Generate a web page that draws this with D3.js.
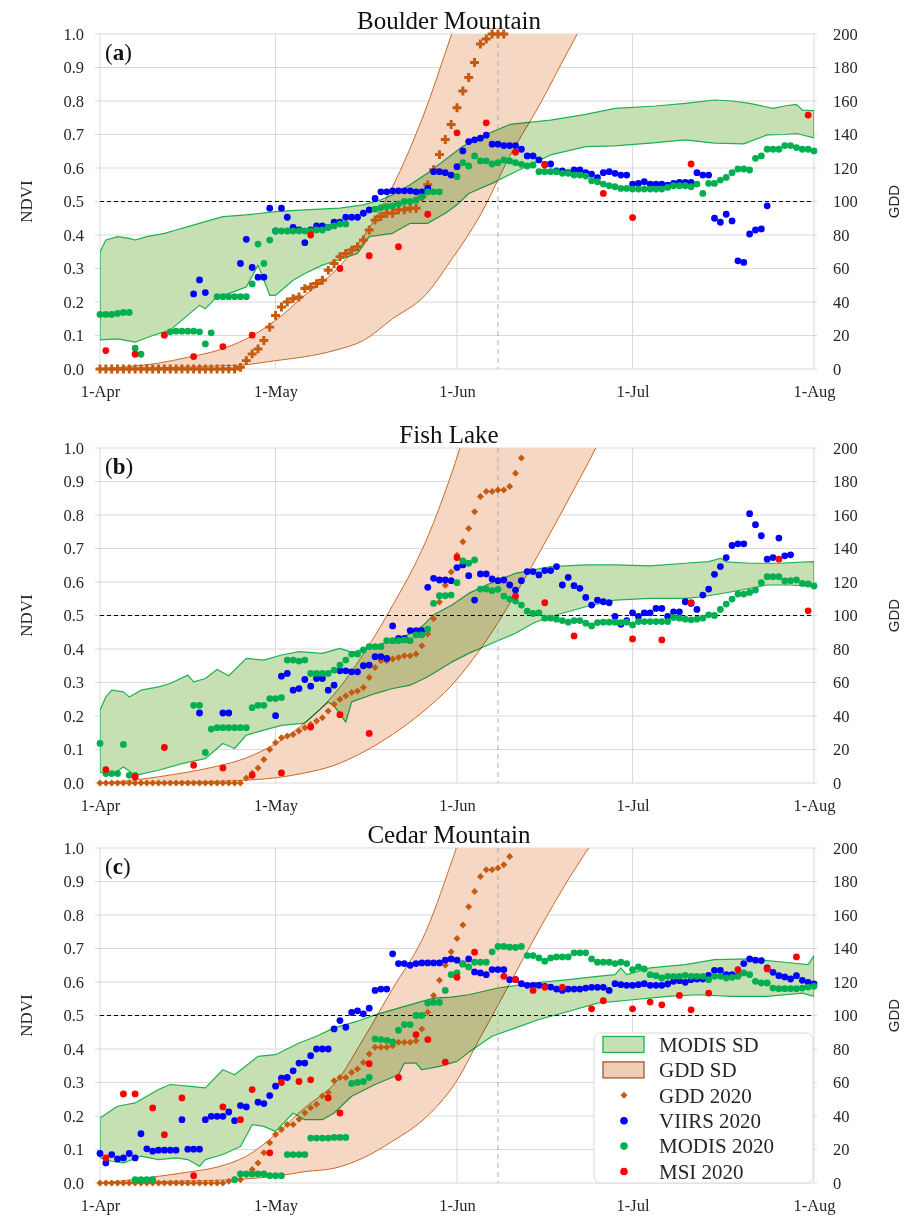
<!DOCTYPE html>
<html>
<head>
<meta charset="utf-8">
<script src="https://cdn.jsdelivr.net/npm/d3@7"></script>
<style>
  body { margin: 0; background: #fff; }
  svg { display: block; font-family: "Liberation Serif", "DejaVu Serif", serif; }
</style>
</head>
<body>
<svg id="chart" width="905" height="1216"></svg>
<script>
const _ = null;

// ---------- shared axis content ----------
const ndviTicks = [0, 0.1, 0.2, 0.3, 0.4, 0.5, 0.6, 0.7, 0.8, 0.9, 1.0];
const gddTicks = [0, 20, 40, 60, 80, 100, 120, 140, 160, 180, 200];
const monthTicks = ["2020-04-01", "2020-05-01", "2020-06-01", "2020-07-01", "2020-08-01"];
const refDay = 68;            // vertical dashed marker (8 June)
const ndviThreshold = 0.5;

// ---------- Boulder Mountain ----------
// daily series, index = days since 1 April
const gddA = [
  0,0,0,0,0,0,0,0,0,0,
  0,0,0,0,0,0,0,0,0,0,
  0,0,0,0,1,5,9,12,17,25,
  32,37,40,42,43,48,49,51,53,59,
  63,67,69,71,73,77,83,89,91,93,
  93,95,95,96,96,103,110,119,128,137,
  146,156,166,174,183,194,197,200,200,200];
const viirsA = [
  _,_,_,_,_,_,_,_,_,_,
  _,_,_,_,_,_,.224,.266,.228,_,
  _,_,_,_,.315,.387,.303,.274,.274,.48,
  .412,.48,.453,.423,.415,.377,.415,.427,.427,.423,
  .438,.438,.453,.453,.453,.465,.475,.509,.529,.529,
  .532,.532,.532,.532,.529,.529,.539,.589,.589,.586,
  .579,.604,.651,.679,.684,.689,.698,.671,.671,.667,
  .667,.667,.656,.636,.636,.624,.611,.612,.591,.591,
  .586,.594,.594,.586,.582,.571,.586,.589,.584,.579,
  .579,.552,.554,.559,.552,.552,.552,.549,.554,.557,
  .557,.557,.586,.579,.579,.45,.438,.462,.442,.323,
  .318,.403,.415,.418,.487];
const modisA = [
  .163,.163,.163,.166,.169,.169,.062,.044,_,_,
  _,_,.111,.113,.113,.113,.113,.111,.075,.108,
  .216,.216,.216,.216,.216,.216,.254,.373,.315,.385,
  .412,.412,.412,.412,.412,.412,.412,.415,.415,.423,
  .427,.433,.433,_,_,_,_,.477,.482,.485,
  .487,.493,.5,.5,.504,.514,.529,.529,.529,_,
  _,.574,.616,.606,.636,.621,.621,.612,.616,.624,
  .621,.616,.611,.606,.609,.589,.589,.589,.589,.584,
  .584,.579,.579,.576,.562,.559,.552,.547,.544,.539,
  .539,.537,.537,.537,.537,.537,.537,.542,.547,.547,
  .547,.544,.552,.524,.554,.554,.564,.572,.586,.597,
  .597,.594,.629,.636,.656,.656,.656,.667,.667,.661,
  .656,.656,.651];
const msiDaysA = [1,6,11,16,21,26,36,41,46,51,56,61,66,71,76,86,91,101,121];
const msiA = [.055,.044,.101,.037,.067,.101,.4,.3,.338,.365,.462,.705,.735,.647,.609,.524,.452,.612,.758];
// GDD mean ± SD envelope
const gddSdUpperDaysA = [0,5,10,15,20,25,30,35,40,45,50,55,60,65];
const gddSdUpperA = [0,1.5,3.5,7,11,18,29,44,58,79,109,149,199,250];
const gddSdLowerDaysA = [0,5,10,15,20,25,30,35,40,45,50,55,60,65,70,75,80,85];
const gddSdLowerA = [0,.3,.7,1.2,1.8,2.6,5,7.3,11,17,30,42,65,92,127,157,190,222];
// MODIS mean ± SD envelope
const modisSdUpperDaysA = [0,1,3,5,6,8,11,13,15,18,21,25,30,35,41,45,48,50,53,56,59,62,66,70,77,83,88,95,100,105,108,111,115,117,119,120,122];
const modisSdUpperA = [.35,.385,.395,.39,.385,.395,.405,.415,.425,.44,.455,.46,.47,.475,.48,.49,.505,.52,.55,.585,.625,.665,.7,.73,.743,.76,.778,.785,.793,.803,.8,.793,.778,.785,.79,.773,.771];
const modisSdLowerDaysA = [0,3,6,9,12,14,17,18,20,22,25,27,29,30,33,35,38,41,44,46,50,53,56,59,61,63,67,71,77,83,88,94,100,105,110,114,117,119,122];
const modisSdLowerA = [.087,.09,.08,.1,.116,.146,.19,.18,.216,.225,.245,.31,.22,.22,.265,.285,.31,.327,.345,.395,.405,.435,.435,.465,.49,.524,.554,.589,.639,.664,.666,.674,.684,.674,.672,.699,.7,.703,.69];

// ---------- Fish Lake ----------
const gddB = [
  0,0,0,0,0,0,0,0,0,0,
  0,0,0,0,0,0,0,0,0,0,
  0,0,0,0,0,3,6,9,14,20,
  24,27,28,29,31,33,35,37,39,43,
  47,50,52,54,55,57,63,69,73,73,
  74,75,76,76,77,82,89,98,108,118,
  126,136,144,152,162,171,174,174,175,175,
  177,185,194];
const viirsB = [
  _,_,_,_,_,_,_,_,_,_,
  _,_,_,_,_,_,_,.209,_,_,
  _,.209,.209,_,_,_,_,_,_,_,
  .201,.319,.327,.277,.282,.309,.289,.312,.312,.277,
  .292,.335,.335,.332,.332,.35,.352,.377,.377,.372,
  .469,.432,.432,.455,.455,.455,.584,.611,.606,.606,
  .604,.643,.651,.619,.546,.624,.624,.609,.604,.606,
  .591,.576,.604,.631,.631,.621,.634,.634,.646,.591,
  .614,.589,.581,.554,.531,.546,.541,.538,.497,.474,
  .485,.508,.497,.508,.508,.521,.521,.497,.511,.511,
  .541,.536,.518,.561,.579,.623,.646,.673,.709,.714,
  .714,.804,.771,.738,.668,.673,.731,.678,.681];
const modisB = [
  .118,.028,.028,.028,.115,.023,.023,_,_,_,
  _,_,_,_,_,_,.232,.232,.091,.161,
  .165,.165,.165,.165,.165,.165,.225,.232,.232,.252,
  .252,.255,.367,.367,.364,.367,.327,.327,.327,.327,
  .337,.352,.367,.385,.385,.397,.407,.407,.407,.425,
  .425,.425,.427,.425,.442,.442,.459,.536,.559,.559,
  .561,.598,.663,.656,.666,.579,.579,.574,.578,.558,
  .549,.543,.531,.513,.506,.508,.492,.492,.489,.485,
  .48,.485,.485,.477,.469,.479,.48,.48,.48,.479,
  .48,.472,.482,.482,.482,.482,.482,.482,.494,.492,
  .489,.487,.489,.492,.502,.5,.518,.534,.549,.564,
  .564,.569,.576,.598,.616,.616,.616,.603,.604,.606,
  .596,.594,.588];
const msiDaysB = [1,6,11,16,21,26,31,36,41,46,61,71,76,81,91,96,101,116,121];
const msiB = [.04,.018,.106,.053,.045,.023,.03,.167,.204,.148,.673,.558,.538,.439,.43,.427,.538,.668,.514];
const gddSdUpperDaysB = [0,5,10,15,20,25,30,35,40,45,50,55,60,65];
const gddSdUpperB = [0,1.5,3.7,6.5,10,15,23.5,36,53,77,106,139,184,240];
const gddSdLowerDaysB = [0,5,10,15,20,25,30,35,40,45,50,55,60,65,70,75,80,85,90];
const gddSdLowerB = [0,.2,.4,.6,1,1.7,3.1,6,10.5,18.5,29,42,58,80,107,137,169,202,240];
const modisSdUpperDaysB = [0,1,2,4,5,7,10,12,15,16,18,20,22,25,28,31,34,38,41,43,47,50,52,55,57,60,63,66,71,77,83,88,94,100,104,106,107,111,116,122];
const modisSdUpperB = [.217,.257,.277,.272,.257,.277,.287,.297,.322,.302,.312,.339,.32,.372,.367,.382,.392,.387,.402,.39,.409,.427,.437,.467,.502,.53,.566,.591,.626,.646,.651,.651,.648,.656,.661,.671,.66,.656,.656,.661];
const modisSdLowerDaysB = [0,2,4,6,10,14,18,21,23,25,28,31,35,39,40,42,43,47,50,53,56,60,63,67,71,74,77,83,88,94,100,103,108,114,118,122];
const modisSdLowerB = [.033,.023,.048,.023,.038,.058,.073,.118,.103,.143,.158,.172,.179,.242,.23,.182,.242,.267,.282,.292,.317,.36,.387,.417,.447,.477,.497,.526,.546,.551,.551,.556,.571,.591,.591,.586];

// ---------- Cedar Mountain ----------
const gddC = [
  0,0,0,0,0,0,0,0,0,0,
  0,0,0,0,0,0,0,0,0,0,
  0,0,1,2,2,5,8,12,18,24,
  29,32,35,35,38,42,45,47,52,54,
  61,63,63,66,68,72,77,81,81,81,
  82,84,84,84,85,92,102,112,121,130,
  138,146,154,165,174,183,187,187,188,190,
  195];
const viirsC = [
  .088,.06,.085,.072,.075,.088,.075,.147,.102,.095,
  .098,.098,.098,.098,.189,.101,.101,.101,.189,.199,
  .199,.199,.212,.186,.231,.227,_,.241,.237,.261,
  .289,.313,.315,.335,.358,.358,.38,.4,.4,.4,
  .46,.485,.465,.509,.514,.505,.522,.575,.579,.579,
  .684,.655,.655,.65,.655,.657,.657,.657,.657,.665,
  .669,.665,.654,.669,.63,.627,.622,.637,.637,.637,
  .607,.607,.595,.59,.59,.59,.587,.585,.579,.575,
  .579,.579,.579,.582,.584,.584,.584,.575,.595,.592,
  .59,.59,.592,.595,.59,.59,.59,.594,.602,.604,
  .599,.607,.609,.609,.62,.635,.635,.622,.622,.619,
  .655,.669,.665,.664,.642,.629,.619,.615,.609,.619,
  .605,.599,.594];
const modisC = [
  _,_,_,_,_,_,.01,.01,.01,.01,
  _,_,_,_,_,_,_,_,_,_,
  _,_,_,.01,.027,.027,.027,.027,.027,.022,
  .022,.022,.085,.085,.085,.085,.134,.134,.134,.134,
  .136,.136,.136,.297,.3,.303,.315,.43,.428,.426,
  .421,.456,.473,.473,.5,.5,.537,.539,.539,.575,
  .622,.627,.654,.645,.659,.659,.659,.69,.706,.706,
  .704,.703,.706,.679,.679,.672,.662,.672,.675,.675,
  .675,.687,.687,.687,.669,.659,.659,.659,.655,.659,
  .655,.637,.645,.639,.622,.619,.612,.617,.617,.617,
  .62,.617,.617,.617,.607,.617,.617,.612,.614,.617,
  .627,.622,.602,.597,.597,.582,.58,.58,.58,.58,
  .582,.585,.587];
const msiDaysC = [1,4,6,9,11,14,16,21,24,26,29,31,34,36,39,41,46,51,54,56,59,61,64,69,71,74,76,79,84,86,91,94,96,99,101,104,109,114,119];
const msiC = [.075,.266,.266,.224,.144,.254,.022,.227,.189,.279,.09,.3,.303,.308,.254,.209,.356,.315,.443,.428,.361,.614,.689,.617,.607,.575,.584,.584,.52,.544,.52,.54,.532,.56,.517,.567,.637,.639,.675];
const gddSdUpperDaysC = [0,5,10,15,20,25,30,35,40,45,50,55,60,65];
const gddSdUpperC = [0,1.8,4,6.5,9.5,16,29,45,59,86,116,145,191,245];
const gddSdLowerDaysC = [0,5,10,15,20,25,30,35,40,45,50,55,60,65,70,75,80,85];
const gddSdLowerC = [0,.4,.8,1.2,1.6,2.5,4,6.8,8.8,15,25,37,56,87,119,151,181,208];
const modisSdUpperDaysC = [0,3,6,10,12,15,18,21,23,27,30,34,37,40,44,47,51,54,57,60,63,68,74,80,85,88,89,90,94,100,105,111,117,121,122];
const modisSdUpperC = [.194,.229,.239,.279,.294,.289,.284,.338,.323,.378,.383,.418,.438,.463,.483,.502,.522,.537,.552,.555,.562,.582,.597,.607,.617,.622,.642,.622,.642,.652,.667,.669,.659,.652,.679];
const modisSdLowerDaysC = [0,2,4,7,10,13,15,17,18,21,24,26,28,30,33,35,38,40,43,47,51,52,54,55,58,61,63,67,71,75,80,85,91,97,102,108,114,120,122];
const modisSdLowerC = [.075,.065,.06,.08,.07,.075,.07,.05,.07,.085,.109,.174,.169,.154,.209,.189,.189,.209,.259,.294,.323,.358,.358,.338,.348,.363,.39,.438,.463,.488,.512,.537,.547,.557,.562,.557,.557,.567,.557];

// ---------- legend ----------
const legendLabels = ["MODIS SD", "GDD SD", "GDD 2020", "VIIRS 2020", "MODIS 2020", "MSI 2020"];

// ---------- styling ----------
const col = {
  grid: "#d9d9d9", text: "#262626",
  gdd: "#c55a11", gddFill: "#f5d7c4", gddEdge: "#c8692a",
  modisFill: "#c6e0b4", modisEdge: "#1db24f",
  viirs: "#0000ff", modis: "#00b050", msi: "#ff0000"
};

const panels = [
  { key: "a", title: "Boulder Mountain", top: 34, marker: "cross",
    gdd: gddA, viirs: viirsA, modis: modisA, msiDays: msiDaysA, msi: msiA,
    gU: [gddSdUpperDaysA, gddSdUpperA], gL: [gddSdLowerDaysA, gddSdLowerA],
    mU: [modisSdUpperDaysA, modisSdUpperA], mL: [modisSdLowerDaysA, modisSdLowerA] },
  { key: "b", title: "Fish Lake", top: 448, marker: "diamond",
    gdd: gddB, viirs: viirsB, modis: modisB, msiDays: msiDaysB, msi: msiB,
    gU: [gddSdUpperDaysB, gddSdUpperB], gL: [gddSdLowerDaysB, gddSdLowerB],
    mU: [modisSdUpperDaysB, modisSdUpperB], mL: [modisSdLowerDaysB, modisSdLowerB] },
  { key: "c", title: "Cedar Mountain", top: 848, marker: "diamond", legend: true,
    gdd: gddC, viirs: viirsC, modis: modisC, msiDays: msiDaysC, msi: msiC,
    gU: [gddSdUpperDaysC, gddSdUpperC], gL: [gddSdLowerDaysC, gddSdLowerC],
    mU: [modisSdUpperDaysC, modisSdUpperC], mL: [modisSdLowerDaysC, modisSdLowerC] }
];

const svg = d3.select("#chart");
const plotH = 335, left = 100, right = 814;
const day0 = Date.UTC(2020, 3, 1);
const toDate = d => new Date(day0 + d * 864e5);
const x = d3.scaleUtc()
  .domain([new Date(day0), new Date(Date.UTC(2020, 7, 1))])
  .range([left, right]);
const xd = d => x(toDate(d));
const parse = d3.utcParse("%Y-%m-%d");
const monthDates = monthTicks.map(parse);

const diamondPath = s => `M0,${-s}L${s},0L0,${s}L${-s},0Z`;
const crossPath = d3.symbol(d3.symbolCross, 44)();

const pairs = (days, vals) => days.map((d, i) => [d, vals[i]]);
const daily = vals => vals.map((v, i) => [i, v]).filter(p => p[1] != null);

panels.forEach(p => {
  const top = p.top, bottom = top + plotH;
  const y = d3.scaleLinear().domain([0, 1]).range([bottom, top]);
  const yg = d3.scaleLinear().domain([0, 200]).range([bottom, top]);
  const g = svg.append("g");

  // grid
  g.append("g").selectAll("line").data(ndviTicks).join("line")
    .attr("x1", left - 5).attr("x2", right + 3)
    .attr("y1", d => y(d)).attr("y2", d => y(d))
    .attr("stroke", col.grid).attr("stroke-width", 1);
  g.append("g").selectAll("line").data(monthDates).join("line")
    .attr("x1", d => x(d)).attr("x2", d => x(d))
    .attr("y1", top).attr("y2", bottom)
    .attr("stroke", col.grid).attr("stroke-width", 1);

  // axes
  const ax = g.append("g").attr("transform", `translate(0,${bottom})`)
    .call(d3.axisBottom(x).tickValues(monthDates).tickFormat(d3.utcFormat("%-d-%b")).tickSize(0).tickPadding(16));
  const ay = g.append("g").attr("transform", `translate(${left},0)`)
    .call(d3.axisLeft(y).tickValues(ndviTicks).tickFormat(d3.format(".1f")).tickSize(0).tickPadding(16));
  const ay2 = g.append("g").attr("transform", `translate(${right + 1},0)`)
    .call(d3.axisRight(yg).tickValues(gddTicks).tickSize(0).tickPadding(18));
  [ax, ay, ay2].forEach(a => {
    a.select(".domain").remove();
    a.selectAll("text").attr("fill", col.text).style("font-size", "16.5px")
      .style("font-family", '"Liberation Serif", serif');
  });

  // envelopes
  const clipId = "clip-" + p.key;
  svg.append("clipPath").attr("id", clipId).append("rect")
    .attr("x", left).attr("y", top).attr("width", right - left).attr("height", plotH);
  const bands = g.append("g").attr("clip-path", `url(#${clipId})`);

  const gLine = d3.line().x(d => xd(d[0])).y(d => yg(d[1])).curve(d3.curveCatmullRom);
  const gUp = pairs(p.gU[0], p.gU[1]), gLo = pairs(p.gL[0], p.gL[1]).reverse();
  bands.append("path")
    .attr("d", gLine(gUp) + "L" + gLine(gLo).slice(1) + "Z")
    .attr("fill", col.gddFill).attr("stroke", col.gddEdge).attr("stroke-width", 1)
    .style("mix-blend-mode", "multiply");

  const mLine = d3.line().x(d => xd(d[0])).y(d => y(d[1]));
  const mUp = pairs(p.mU[0], p.mU[1]), mLo = pairs(p.mL[0], p.mL[1]).reverse();
  bands.append("path")
    .attr("d", mLine(mUp) + "L" + mLine(mLo).slice(1) + "Z")
    .attr("fill", col.modisFill).attr("stroke", col.modisEdge).attr("stroke-width", 1.2)
    .attr("stroke-linejoin", "round")
    .style("mix-blend-mode", "multiply");

  // reference lines
  g.append("line").attr("x1", left).attr("x2", right - 2)
    .attr("y1", y(ndviThreshold)).attr("y2", y(ndviThreshold))
    .attr("stroke", "#000").attr("stroke-width", 1).attr("stroke-dasharray", "4,3");
  g.append("line").attr("x1", xd(refDay)).attr("x2", xd(refDay))
    .attr("y1", top).attr("y2", bottom)
    .attr("stroke", "#b0b0b0").attr("stroke-width", 1).attr("stroke-dasharray", "5,4");

  // GDD 2020
  g.append("g").selectAll("path").data(daily(p.gdd)).join("path")
    .attr("transform", d => `translate(${xd(d[0])},${yg(d[1])})`)
    .attr("d", p.marker === "cross" ? crossPath : diamondPath(3.5))
    .attr("fill", col.gdd);

  // NDVI series
  const dots = (data, color) => g.append("g").selectAll("circle").data(data).join("circle")
    .attr("cx", d => xd(d[0])).attr("cy", d => y(d[1])).attr("r", 3.4).attr("fill", color);
  dots(daily(p.viirs), col.viirs);
  dots(daily(p.modis), col.modis);
  dots(pairs(p.msiDays, p.msi), col.msi);

  // titles and labels
  g.append("text").attr("x", 449).attr("y", top - 5).attr("text-anchor", "middle")
    .style("font-size", "25px").attr("fill", "#111").text(p.title);
  const tag = g.append("text").attr("x", 105).attr("y", top + 26)
    .style("font-size", "23px").attr("fill", "#111");
  tag.append("tspan").text("(");
  tag.append("tspan").attr("font-weight", "bold").text(p.key);
  tag.append("tspan").text(")");
  g.append("text").attr("transform", `translate(26,${(top + bottom) / 2}) rotate(-90)`)
    .attr("text-anchor", "middle").attr("dy", "0.35em")
    .style("font-size", "17px").attr("fill", col.text).text("NDVI");
  g.append("text").attr("transform", `translate(894,${(top + bottom) / 2}) rotate(-90)`)
    .attr("text-anchor", "middle").attr("dy", "0.35em")
    .style("font-family", '"Liberation Sans", sans-serif')
    .style("font-size", "15px").attr("fill", col.text).text("GDD");

  if (p.legend) {
    const lg = g.append("g");
    lg.append("rect").attr("x", 594).attr("y", 1033).attr("width", 219).attr("height", 150)
      .attr("rx", 7).attr("fill", "#fff").attr("stroke", "#d9d9d9");
    legendLabels.forEach((label, i) => {
      const cy = 1044.5 + i * 25.4;
      if (i === 0) {
        lg.append("rect").attr("x", 603).attr("y", cy - 8).attr("width", 41).attr("height", 16)
          .attr("fill", col.modisFill).attr("stroke", col.modisEdge).attr("stroke-width", 1.3);
      } else if (i === 1) {
        lg.append("rect").attr("x", 603).attr("y", cy - 8).attr("width", 41).attr("height", 16)
          .attr("fill", "#efcdb6").attr("stroke", "#9e5a2c").attr("stroke-width", 1.3);
      } else if (i === 2) {
        lg.append("path").attr("transform", `translate(624,${cy})`).attr("d", diamondPath(3.5)).attr("fill", col.gdd);
      } else {
        lg.append("circle").attr("cx", 624).attr("cy", cy).attr("r", 3.8)
          .attr("fill", [col.viirs, col.modis, col.msi][i - 3]);
      }
      lg.append("text").attr("x", 659).attr("y", cy).attr("dy", "0.35em")
        .style("font-size", "21px").attr("fill", col.text).text(label);
    });
  }
});
</script>
</body>
</html>
